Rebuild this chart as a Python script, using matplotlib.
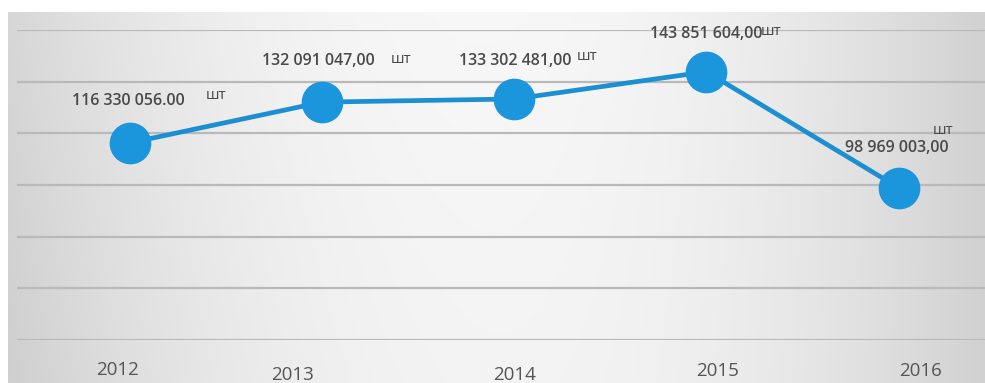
import numpy as np
import matplotlib
matplotlib.use('Agg')
import matplotlib.pyplot as plt
import matplotlib.transforms as mtrans

plt.rcParams['font.family'] = ['Open Sans', 'DejaVu Sans']

# production by year, pieces
years = ['2012', '2013', '2014', '2015', '2016']
values = [116330056.00, 132091047.00, 133302481.00, 143851604.00, 98969003.00]
value_text = ['116 330 056.00', '132 091 047,00', '133 302 481,00', '143 851 604,00', '98 969 003,00']
unit = 'шт'

fig = plt.figure(figsize=(9.85, 3.83), dpi=100)
fig.patch.set_facecolor('white')

# greyish panel with a bright middle
bg = fig.add_axes([8 / 985, 0, 1 - 8 / 985, (383 - 12) / 383])
bg.set_axis_off()
xx, yy = np.meshgrid(np.linspace(0, 1, 400), np.linspace(0, 1, 160))
shade = 0.97 - 0.15 * ((xx - 0.48) / 0.52) ** 2 - 0.03 * yy * (1 - xx)
shade = np.clip(shade, 0, 1)
bg.imshow(np.dstack([shade, shade, shade]), aspect='auto', extent=[0, 1, 0, 1])

ax = fig.add_axes([17 / 985, 1 - 340 / 383, 1 - 17 / 985, 310 / 383])
ax.patch.set_alpha(0)
x = np.arange(len(years))
ax.set_xlim(-0.589, 4.45)
ax.set_ylim(40e6, 160e6)
ax.set_yticks(np.arange(40e6, 160e6 + 1, 20e6))
ax.grid(axis='y', color='#b9b9b9', lw=1.6)
ax.set_axisbelow(True)
for s in ax.spines.values():
    s.set_visible(False)
ax.tick_params(left=False, bottom=False, labelleft=False)
ax.set_xticks(x)
ax.set_xticklabels(years, fontsize=13.5, color='#555555')
tick_shift = [(-13, -11), (-30, -16), (0, -16), (11, -12), (22, -12)]
for lab, (dx, dy) in zip(ax.get_xticklabels(), tick_shift):
    lab.set_transform(lab.get_transform() + mtrans.ScaledTranslation(dx / 100, dy / 100, fig.dpi_scale_trans))

ax.plot(x, values, color='#1b8fd2', lw=3.4, marker='o', markersize=29,
        markerfacecolor='#1b95db', markeredgecolor='#1b95db', zorder=3)

# value labels with unit
lab_off = [(-2, 42), (-4, 41), (1, 38), (0, 38), (-2, 40)]
unit_off = [(86, 47), (79, 43), (73, 42), (65, 40), (45, 57)]
for i, v in enumerate(values):
    ax.annotate(value_text[i], (x[i], v), xytext=lab_off[i], textcoords='offset pixels',
                ha='center', va='center', fontsize=11.5, fontweight='semibold', color='#4a4a4a')
    ax.annotate(unit, (x[i], v), xytext=unit_off[i], textcoords='offset pixels',
                ha='center', va='center', fontsize=11, color='#4a4a4a')

fig.savefig('out.png', dpi=100)
